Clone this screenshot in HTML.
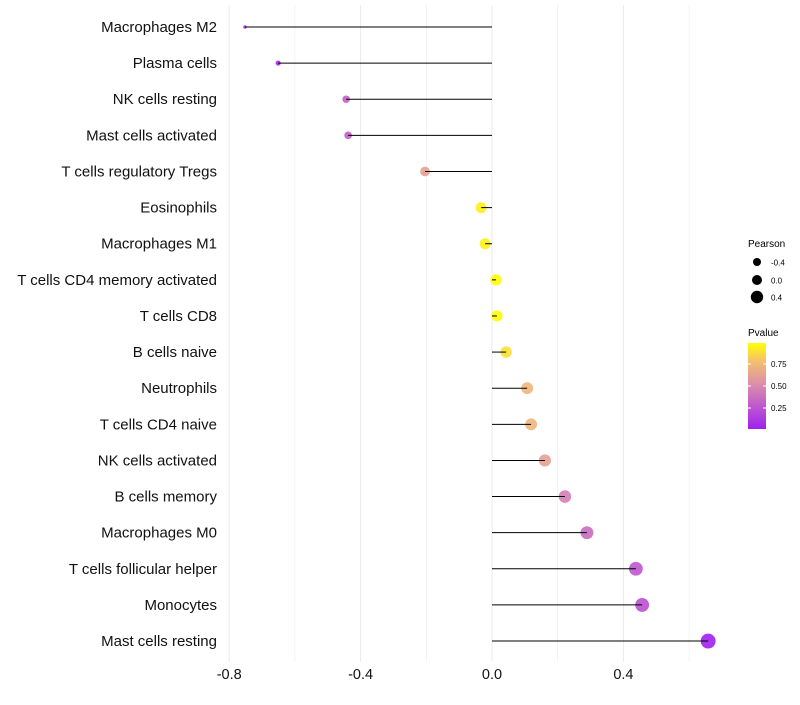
<!DOCTYPE html>
<html><head><meta charset="utf-8"><style>
body{margin:0;background:#fff;font-family:"Liberation Sans",sans-serif}
</style></head><body>
<svg id="chart" width="800" height="700">
<defs><linearGradient id="pg" x1="0" y1="1" x2="0" y2="0">
<stop offset="0" stop-color="#A020F0"/><stop offset="0.5" stop-color="#D98AAE"/><stop offset="0.8" stop-color="#F6C26A"/><stop offset="1" stop-color="#FFFF00"/></linearGradient></defs>
<g id="grid"></g><g id="dots"></g><g id="stems"></g><g id="labels"></g>
<g font-size="10">
<text x="748" y="247">Pearson</text>
<circle cx="757" cy="262" r="4"/><text x="771" y="265.5" font-size="8">-0.4</text>
<circle cx="757" cy="280" r="5"/><text x="771" y="283.5" font-size="8">0.0</text>
<circle cx="757" cy="297" r="6.2"/><text x="771" y="300.5" font-size="8">0.4</text>
<text x="748" y="336">Pvalue</text>
<rect x="748" y="343" width="18" height="86" fill="url(#pg)"/>
<text x="771" y="367" font-size="8">0.75</text><text x="771" y="389" font-size="8">0.50</text><text x="771" y="411" font-size="8">0.25</text>
<line x1="748" x2="751" y1="364" y2="364" stroke="#fff"/><line x1="763" x2="766" y1="364" y2="364" stroke="#fff"/>
<line x1="748" x2="751" y1="386" y2="386" stroke="#fff"/><line x1="763" x2="766" y1="386" y2="386" stroke="#fff"/>
<line x1="748" x2="751" y1="408" y2="408" stroke="#fff"/><line x1="763" x2="766" y1="408" y2="408" stroke="#fff"/>
</g>
</svg>
<script>
const categories=["Macrophages M2","Plasma cells","NK cells resting","Mast cells activated","T cells regulatory  Tregs","Eosinophils","Macrophages M1","T cells CD4 memory activated","T cells CD8","B cells naive","Neutrophils","T cells CD4 naive","NK cells activated","B cells memory","Macrophages M0","T cells follicular helper","Monocytes","Mast cells resting"];
const pearson=[-0.752,-0.651,-0.444,-0.438,-0.204,-0.033,-0.021,0.012,0.015,0.043,0.107,0.119,0.161,0.222,0.289,0.438,0.457,0.658];
const pvalue=[0.02,0.06,0.3,0.3,0.62,0.93,0.93,0.97,0.97,0.88,0.72,0.72,0.62,0.45,0.36,0.27,0.24,0.02];
const xTicks=[-0.8,-0.4,0.0,0.4];
const NS="http://www.w3.org/2000/svg";
const x=v=>492+v*328.5;
const y=i=>27+i*36.12;
const rad=v=>Math.sqrt(Math.max(2,31+37.5*v));
function lerp(a,b,t){return a.map((c,i)=>Math.round(c+(b[i]-c)*t));}
const stops=[[0,[160,32,240]],[0.5,[217,138,174]],[0.8,[246,194,106]],[1,[255,255,0]]];
function col(p){const t=Math.max(0,Math.min(1,(p-0.023)/(0.977-0.023)));for(let k=1;k<stops.length;k++){if(t<=stops[k][0]){const a=stops[k-1],b=stops[k];const c=lerp(a[1],b[1],(t-a[0])/(b[0]-a[0]));return`rgb(${c})`;}}return"rgb(255,255,0)";}
function mk(t,a,parent){const e=document.createElementNS(NS,t);for(const k in a)e.setAttribute(k,a[k]);parent.appendChild(e);return e;}
const grid=document.getElementById('grid'),dots=document.getElementById('dots'),stems=document.getElementById('stems'),labels=document.getElementById('labels');
for(let k=-8;k<=6;k+=2){const v=k/10;const l=mk('line',{x1:x(v),x2:x(v),y1:5,y2:662,stroke:'#ebebeb','stroke-width':k%4==0?1:0.6},grid);

}
xTicks.forEach(v=>{const t=mk('text',{x:x(v),y:679,'text-anchor':'middle','font-size':14.5,fill:'#111'},labels);t.textContent=v.toFixed(1);

});
categories.forEach((c,i)=>{
const t=mk('text',{x:217,y:y(i)+5,'text-anchor':'end','font-size':15,fill:'#111','xml:space':'preserve'},labels);t.textContent=c;


const d=mk('circle',{cx:x(pearson[i]),cy:y(i),r:rad(pearson[i]),fill:col(pvalue[i]),'fill-opacity':0.9},dots);


const l=mk('line',{x1:x(0),x2:x(pearson[i]),y1:y(i),y2:y(i),stroke:'#000','stroke-width':1},stems);


});
</script>
</body></html>
